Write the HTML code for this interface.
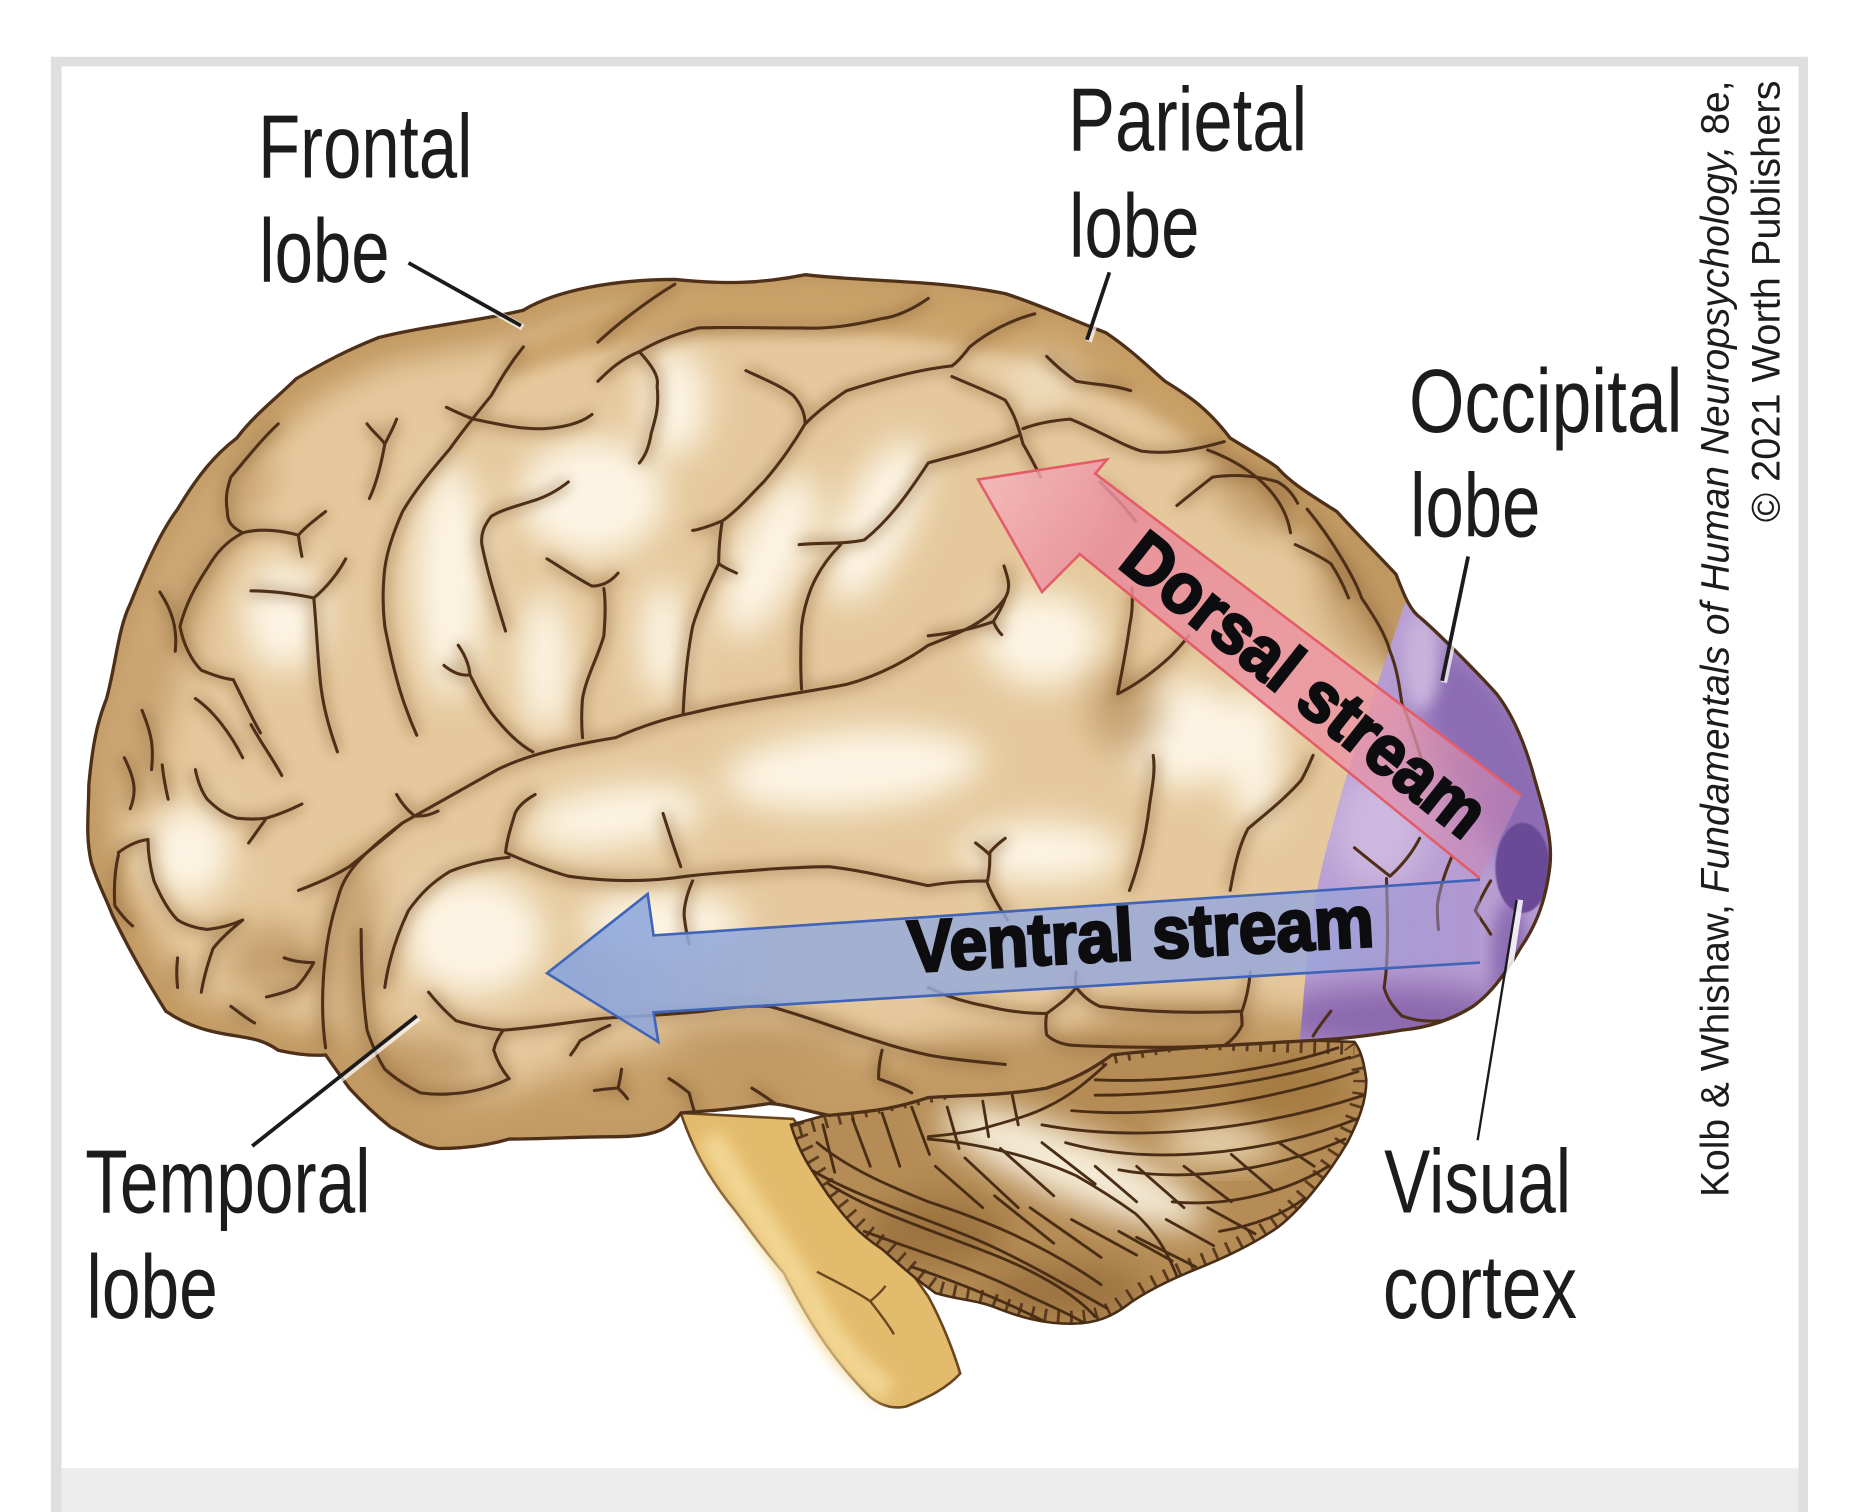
<!DOCTYPE html>
<html lang="en">
<head>
<meta charset="utf-8">
<title>Dorsal and ventral visual streams</title>
<style>
html,body{margin:0;padding:0;background:#fff;width:1856px;height:1512px;overflow:hidden}
svg{display:block}
text{font-family:"Liberation Sans",sans-serif;fill:#1c1c1e}
.lbl{font-size:76px}
.fol path{fill:none;stroke:#4a2d15;stroke-width:2.4;stroke-linecap:round}
</style>
</head>
<body>
<svg width="1856" height="1512" viewBox="0 0 1567.57 1277" preserveAspectRatio="none" xmlns="http://www.w3.org/2000/svg">
<defs>
<path id="brain" d="M442 262 C470 245 520 236 570 236 C610 240 640 240 680 232 C730 238 790 236 849 248 C880 258 900 268 934 281 C955 295 970 310 984 322 C1005 335 1020 345 1039 370 C1055 380 1070 388 1079 395 C1090 408 1110 420 1129 432 C1150 455 1165 470 1179 485 C1185 500 1190 515 1200 522 C1215 535 1245 565 1264 586 C1275 600 1285 620 1294 650 C1302 680 1312 705 1309 732 C1305 765 1295 785 1284 801 C1270 825 1258 840 1244 850 C1225 862 1205 868 1184 870 C1155 875 1130 878 1104 879 C1050 882 990 885 939 891 C920 905 905 912 884 919 C850 925 815 925 784 927 C760 935 745 938 700 942 C680 938 665 933 650 932 C630 935 615 937 600 938 L575 940 C565 955 550 960 520 960 C490 960 460 962 430 962 C410 968 390 970 370 970 C355 968 345 960 330 952 C315 940 305 930 295 919 C287 908 280 898 275 891 C262 892 248 890 235 887 C222 878 212 877 200 875 C180 872 160 868 140 854 C125 830 108 800 95 773 C88 755 82 745 77 728 C72 705 75 685 75 663 C78 630 82 610 90 590 C98 560 100 530 110 510 C122 480 135 450 150 430 C165 405 180 385 200 370 C215 350 235 335 250 320 C275 305 295 295 320 285 C360 275 400 272 442 262 Z"/>
<clipPath id="cb"><use href="#brain"/></clipPath>
<path id="cbl" d="M668 950 C675 975 688 992 700 1010 C715 1030 725 1042 745 1055 C760 1068 770 1078 790 1092 C810 1098 825 1098 840 1104 C860 1112 880 1118 905 1118 C925 1118 940 1112 955 1100 C970 1090 990 1080 1010 1072 C1035 1062 1060 1050 1080 1036 C1100 1020 1122 992 1138 965 C1148 945 1154 930 1154 912 C1152 898 1150 888 1144 880 L1000 875 L880 900 L740 930 Z"/>
<clipPath id="ccb"><use href="#cbl"/></clipPath>
<clipPath id="cpur"><path d="M1188 505 L1320 600 L1330 900 L1096 900 L1100 855 C1104 800 1110 750 1125 700 C1140 640 1160 590 1188 505 Z"/></clipPath>
<filter id="b6" x="-30%" y="-30%" width="160%" height="160%"><feGaussianBlur stdDeviation="6"/></filter>
<filter id="b14" x="-40%" y="-40%" width="180%" height="180%"><feGaussianBlur stdDeviation="14"/></filter>
<filter id="b1"><feGaussianBlur stdDeviation="0.7"/></filter>
<linearGradient id="gd" gradientUnits="userSpaceOnUse" x1="830" y1="410" x2="1270" y2="710">
<stop offset="0" stop-color="#f4b3ba" stop-opacity=".82"/><stop offset=".22" stop-color="#e98b9b" stop-opacity=".85"/><stop offset=".7" stop-color="#ec97a4" stop-opacity=".85"/><stop offset="1" stop-color="#c886b8" stop-opacity=".55"/>
</linearGradient>
<linearGradient id="gv" gradientUnits="userSpaceOnUse" x1="462" y1="0" x2="1250" y2="0">
<stop offset="0" stop-color="#8aa5dd" stop-opacity=".9"/><stop offset=".3" stop-color="#98add9" stop-opacity=".85"/><stop offset=".8" stop-color="#98a8dc" stop-opacity=".85"/><stop offset="1" stop-color="#a48fd0" stop-opacity=".4"/>
</linearGradient>
<g id="sulci">
<path d="M275 885 C270 850 272 800 285 760 C290 740 300 725 340 695 C370 678 395 664 420 650 C450 635 490 628 520 623 C545 612 565 606 585 602 C625 592 680 585 715 578 C745 570 770 555 784 545 C810 535 835 525 849 505 C855 495 850 485 848 478"/>
<path d="M505 289 C520 275 545 255 570 240"/>
<path d="M784 252 C770 262 755 268 745 269 C720 275 700 278 675 277 C640 277 615 276 590 277 C570 282 555 288 540 297 C525 303 515 312 505 322"/>
<path d="M540 297 C550 308 557 318 555 326 C557 345 553 355 550 366 C548 378 545 385 540 391"/>
<path d="M442 293 C430 308 423 320 415 334 C402 350 392 362 380 379 C362 400 350 415 340 432 C332 450 327 465 325 480 C323 497 323 512 325 529 C330 555 334 572 340 590 C344 602 348 612 352 621"/>
<path d="M377 344 C385 348 392 351 400 354 C420 358 440 363 460 362 C475 361 490 358 500 350"/>
<path d="M310 358 C316 366 322 370 325 375 C322 392 318 408 312 421 M335 354 C332 362 328 369 325 375"/>
<path d="M275 432 C265 440 258 445 252 452 C238 448 220 446 205 450 C195 445 192 440 192 432 C190 420 192 412 195 403 C210 385 222 370 235 358 M252 452 C253 460 254 465 255 470"/>
<path d="M205 450 C190 458 182 468 175 480 C165 495 157 510 152 529 C155 545 162 558 170 566 C180 570 188 573 197 574 C205 590 212 605 220 619"/>
<path d="M292 472 C285 485 275 497 265 505 C250 502 230 499 212 499 M265 505 C267 525 268 550 270 570 C272 595 278 615 285 635"/>
<path d="M480 407 C470 415 460 420 450 423 C435 428 425 430 415 436 C408 445 406 452 407 460 C412 485 420 510 427 533"/>
<path d="M462 472 C475 480 490 490 500 495 C510 495 517 490 522 484 M510 497 C512 510 511 525 510 537 C505 555 495 572 492 590 C491 602 491 612 492 623"/>
<path d="M375 562 C382 568 390 571 397 570 C396 560 392 552 387 545 M397 570 C403 582 408 592 415 602 C425 615 437 628 450 635"/>
<path d="M630 313 C645 320 660 326 670 334 C677 342 680 350 680 358"/>
<path d="M804 309 C775 312 740 322 715 330 C700 340 690 348 680 358 C670 375 658 392 645 407 C632 420 622 432 610 440 C600 444 592 447 585 448 M610 440 C608 452 607 465 607 476 C612 480 618 482 622 484 M607 476 C598 495 590 512 585 529 C580 555 578 580 577 602"/>
<path d="M860 368 C830 380 805 385 784 391 C765 420 750 440 730 456 C712 460 693 458 675 460 M710 460 C698 472 690 485 685 497 C680 510 678 520 677 529 C676 550 676 565 677 582"/>
<path d="M804 309 C810 305 815 298 819 293 C835 280 855 270 874 265"/>
<path d="M804 318 C820 325 838 332 849 338 C857 350 860 360 864 375 C870 385 875 395 879 403"/>
<path d="M864 362 C875 358 890 355 904 354 C925 362 945 375 964 381 C985 384 1010 380 1034 373"/>
<path d="M884 301 C893 310 900 316 909 322 C925 325 940 325 955 330"/>
<path d="M929 407 C940 418 950 428 959 440"/>
<path d="M994 427 C1005 418 1015 410 1024 403 C1045 400 1062 402 1079 407 C1088 412 1092 418 1096 425"/>
<path d="M1094 460 C1105 465 1115 470 1124 476 C1130 485 1135 495 1139 505"/>
<path d="M1104 430 C1125 455 1145 490 1150 505 C1160 520 1170 535 1174 550 C1180 565 1182 580 1184 594"/>
<path d="M849 505 C847 512 843 518 839 525 C820 532 802 535 784 537 M839 525 C841 530 843 533 846 536"/>
<path d="M956 497 C957 510 956 520 954 529 C952 545 948 565 944 586 C960 578 975 567 989 554 C995 548 1000 542 1004 537"/>
<path d="M452 671 C445 675 438 680 435 687 C431 700 428 710 427 720 C445 728 462 735 480 740 C515 745 548 745 580 740 C605 737 628 736 650 734 C668 733 685 732 700 732 C728 735 755 742 784 748 C800 745 815 744 834 744 C836 735 836 728 836 720 C840 715 845 711 849 708 M836 722 C832 718 828 715 824 712 M834 746 C838 757 845 768 851 777"/>
<path d="M430 724 C410 726 395 730 380 736 C365 745 355 755 345 769 C335 790 328 812 325 834"/>
<path d="M560 687 C565 703 570 718 575 732 M585 744 C580 755 577 768 578 775 C579 783 580 790 582 797"/>
<path d="M305 785 C305 810 306 840 310 870 C315 885 320 895 325 903 C335 912 345 918 355 923 C370 925 380 924 390 923 C405 921 418 917 430 911"/>
<path d="M362 838 C370 848 378 856 385 862 C398 866 412 869 425 870 C455 868 482 863 510 860 C540 858 568 857 595 854 C615 851 635 849 650 850 C680 858 710 870 740 879 C755 884 770 888 784 891 C805 895 828 897 849 899"/>
<path d="M425 870 C420 877 418 882 417 887 C420 897 425 905 430 911"/>
<path d="M515 866 C505 870 497 875 490 879 C487 884 485 887 482 891"/>
<path d="M502 921 C510 920 517 919 522 919 C525 922 528 925 530 928 M525 903 C524 910 523 915 522 919"/>
<path d="M565 911 C572 915 578 920 582 923 C584 930 585 935 587 940"/>
<path d="M635 919 C645 925 652 930 660 936"/>
<path d="M745 887 C743 895 742 903 742 911 C752 915 762 918 770 923"/>
<path d="M784 834 C800 842 818 847 834 850 C850 854 868 856 884 856 C895 848 903 842 909 834 C908 828 908 825 909 821 M909 834 C915 842 922 847 929 850 C970 855 1010 856 1049 854 C1053 843 1055 832 1056 821"/>
<path d="M884 856 C883 862 883 868 884 874 C890 880 900 883 909 883 C950 885 995 885 1034 883 C1042 878 1046 872 1049 866 C1049 860 1049 857 1048 854"/>
<path d="M974 638 C976 652 973 665 971 679 C968 705 962 730 954 752"/>
<path d="M1109 638 C1106 645 1103 652 1099 659 C1085 675 1068 688 1054 700 C1046 715 1042 735 1039 752"/>
<path d="M165 650 C167 660 170 668 175 675 C183 683 190 688 200 691 C210 692 218 692 225 691 C235 688 245 684 255 679 M225 691 C220 698 215 705 210 712"/>
<path d="M335 671 C340 680 345 685 350 689 C357 690 364 688 370 685"/>
<path d="M252 752 C268 746 282 740 295 732 C310 720 325 708 340 695"/>
<path d="M100 720 C108 714 117 710 125 709 C125 722 127 733 130 744 C136 758 143 770 150 777 C158 782 166 784 175 785 C185 784 196 781 205 777 C195 785 187 792 180 801 C175 815 172 826 170 838"/>
<path d="M150 809 C149 818 149 826 150 834 M100 722 C97 735 96 750 97 765 C102 772 107 778 112 782"/>
<path d="M240 809 C248 812 256 813 265 813 C260 822 255 829 250 834 C242 838 234 840 225 842 M195 850 C202 855 208 860 215 864"/>
<path d="M137 646 C138 656 140 666 142 675 M212 612 C222 630 230 640 238 655 M120 600 C128 620 130 630 128 650 M165 590 C180 600 195 620 205 640 M135 500 C145 515 150 530 148 550 M105 640 C115 660 115 670 110 683"/>
<path d="M1226 724 C1220 738 1216 750 1214 764 C1214 772 1214 778 1215 785 M1259 744 C1254 752 1250 760 1246 769 C1250 776 1255 782 1259 789"/>
<path d="M1144 716 C1155 725 1165 733 1174 740 C1185 730 1193 720 1199 708 M1171 742 C1172 775 1173 810 1169 834 C1172 845 1178 852 1184 858 C1195 862 1208 863 1219 862 C1235 856 1250 848 1264 838"/>
<path d="M1124 854 C1118 862 1113 868 1109 875"/>
<path d="M1020 380 C1060 395 1085 420 1090 450 M1184 594 C1195 620 1200 640 1205 655"/>
</g>
</defs>

<rect x="0" y="0" width="1568" height="1277" fill="#ffffff"/>
<rect x="43" y="48" width="1484" height="8" fill="#dfdfdf"/>
<rect x="43" y="48" width="9" height="1229" fill="#dfdfdf"/>
<rect x="1519" y="48" width="8" height="1229" fill="#dfdfdf"/>
<rect x="52" y="1240" width="1467" height="37" fill="#ececec"/>

<!-- brain stem -->
<path d="M575 940 C585 970 598 993 615 1015 C630 1033 640 1050 662 1075 C680 1110 700 1145 735 1180 C745 1188 755 1190 765 1188 C785 1180 800 1172 811 1160 C805 1140 795 1115 784 1095 C760 1060 720 1010 670 945 Z" fill="#e3bb6d" stroke="#6a4620" stroke-width="2.2"/>
<path d="M600 960 C620 1000 650 1040 680 1090 C700 1130 725 1160 750 1175" fill="none" stroke="#f2d692" stroke-width="22" filter="url(#b6)"/>
<path d="M690 1074 C705 1082 722 1090 735 1099 C742 1108 750 1118 755 1127 M735 1099 C740 1095 745 1090 748 1086" fill="none" stroke="#6a4620" stroke-width="2"/>

<!-- cerebellum -->
<use href="#cbl" fill="#b58c55"/>
<g clip-path="url(#ccb)">
<ellipse cx="905" cy="985" rx="120" ry="28" fill="#f6ecd8" filter="url(#b14)" transform="rotate(22 905 985)"/>
<ellipse cx="1030" cy="965" rx="50" ry="18" fill="#e9d6b2" filter="url(#b14)"/>
<ellipse cx="790" cy="1040" rx="60" ry="30" fill="#9c7340" filter="url(#b14)"/>
<ellipse cx="900" cy="1090" rx="70" ry="24" fill="#9c7340" filter="url(#b14)"/>
<ellipse cx="1090" cy="920" rx="50" ry="30" fill="#a57b42" filter="url(#b14)"/>
<g class="fol">
<path d="M784 960 C805 958 825 955 834 952 C855 946 870 942 884 935 C905 925 920 912 934 899"/>
<path d="M925 912 C990 915 1070 905 1130 885 M925 925 C990 925 1070 915 1140 893 M905 938 C980 945 1070 930 1147 905 M880 950 C960 965 1060 955 1152 925 M900 965 C970 985 1070 975 1146 945 M945 988 C1010 1000 1085 985 1136 962 M990 1015 C1040 1020 1090 1005 1122 985 M1030 1040 C1060 1035 1085 1025 1102 1012"/>
<path d="M784 962 C820 965 870 975 909 993 C930 1005 945 1015 959 1025 C975 1040 985 1055 994 1078"/>
<path d="M690 965 C720 990 760 1005 784 1015 C830 1030 880 1050 930 1085 M700 1000 C740 1025 790 1040 840 1060 C870 1072 905 1090 925 1112 M730 1040 C770 1055 820 1070 860 1090 C880 1100 900 1108 915 1117 M770 1070 C800 1080 840 1095 880 1115 M680 985 C720 1010 780 1028 825 1047 C860 1062 900 1085 935 1105"/>
<path d="M695 950 L705 990 M720 945 L735 985 M745 940 L760 985 M770 935 L785 975 M800 935 L810 970 M830 930 L835 960 M855 925 L860 950"/>
<path d="M790 985 L830 1020 M815 978 L860 1020 M845 970 L890 1010 M880 965 L925 1000 M925 985 L960 1015 M960 985 L1000 1020 M1000 985 L1040 1015 M1040 975 L1075 1005 M1080 965 L1110 985"/>
<path d="M905 1030 L960 1060 M945 1040 L990 1065 M985 1030 L1025 1052 M870 1020 L930 1062 M840 1010 L890 1050 M960 1045 L1010 1070 M1020 1020 L1060 1042"/>
</g>
<use href="#cbl" fill="none" stroke="#4a2d15" stroke-width="22" stroke-dasharray="2.4 9" opacity=".85"/>
</g>
<use href="#cbl" fill="none" stroke="#4a2d15" stroke-width="2.2"/>

<!-- cerebrum -->
<use href="#brain" fill="#e5c99d"/>
<g clip-path="url(#cb)">
<use href="#brain" fill="none" stroke="#bf965f" stroke-width="44" filter="url(#b14)"/>
<path d="M430 300 C500 250 620 230 780 245 C840 250 880 262 940 290 C1000 330 1080 400 1180 500 L1180 560 C1130 470 1040 380 960 340 C880 300 800 285 700 280 C600 275 500 290 430 320 Z" fill="#c89f66" filter="url(#b6)" opacity=".85"/>
<path d="M80 660 C90 560 130 460 200 380 L235 400 C180 480 140 580 130 690 Z" fill="#c9a472" filter="url(#b14)"/>
<path d="M280 890 L300 930 C340 975 480 975 570 945 L700 945 L1000 890 L1000 870 L740 885 C620 870 500 880 420 930 C370 930 330 900 320 860 Z" fill="#c29a63" filter="url(#b14)" opacity=".9"/>
<g fill="#fcf4e3" filter="url(#b14)">
<ellipse cx="500" cy="420" rx="62" ry="50"/>
<ellipse cx="380" cy="490" rx="30" ry="100"/>
<ellipse cx="570" cy="340" rx="28" ry="46"/>
<ellipse cx="650" cy="470" rx="28" ry="75" transform="rotate(25 650 470)"/>
<ellipse cx="740" cy="440" rx="30" ry="75" transform="rotate(25 740 440)"/>
<ellipse cx="880" cy="540" rx="50" ry="40"/>
<ellipse cx="560" cy="540" rx="20" ry="50"/>
<ellipse cx="460" cy="560" rx="22" ry="60"/>
<ellipse cx="400" cy="790" rx="60" ry="50"/>
<ellipse cx="520" cy="690" rx="75" ry="26" transform="rotate(-8 520 690)"/>
<ellipse cx="720" cy="650" rx="110" ry="34" transform="rotate(-5 720 650)"/>
<ellipse cx="880" cy="720" rx="70" ry="26"/>
<ellipse cx="1000" cy="620" rx="50" ry="45"/>
<ellipse cx="240" cy="520" rx="35" ry="46"/>
<ellipse cx="160" cy="720" rx="35" ry="40"/>
<ellipse cx="1060" cy="640" rx="22" ry="60"/>
<ellipse cx="880" cy="320" rx="30" ry="22" opacity=".5"/>
<ellipse cx="560" cy="780" rx="70" ry="28"/>
</g>
<g fill="#b78f5c" filter="url(#b14)" opacity=".7">
<ellipse cx="950" cy="600" rx="30" ry="36"/>
<ellipse cx="230" cy="810" rx="40" ry="30"/>
<ellipse cx="300" cy="800" rx="20" ry="80"/>
<ellipse cx="360" cy="900" rx="50" ry="26"/>
<ellipse cx="640" cy="880" rx="80" ry="20"/>
<ellipse cx="870" cy="890" rx="90" ry="14"/>
<ellipse cx="1000" cy="860" rx="80" ry="14"/>
<ellipse cx="1060" cy="420" rx="40" ry="22" transform="rotate(35 1060 420)"/>
<ellipse cx="1150" cy="510" rx="30" ry="60" transform="rotate(-25 1150 510)"/>
</g>
<use href="#sulci" fill="none" stroke="#8f673a" stroke-width="9" filter="url(#b6)" opacity=".5"/>
<g clip-path="url(#cpur)">
<rect x="1090" y="500" width="240" height="400" fill="#b89ed3"/>
<ellipse cx="1260" cy="640" rx="45" ry="110" fill="#8c6cb2" filter="url(#b14)" transform="rotate(-30 1260 640)"/>
<ellipse cx="1180" cy="860" rx="110" ry="28" fill="#8b67ad" filter="url(#b14)"/>
<ellipse cx="1165" cy="700" rx="40" ry="50" fill="#cdb8df" filter="url(#b14)"/>
<ellipse cx="1200" cy="560" rx="16" ry="40" fill="#c8b3dc" filter="url(#b6)"/>
<ellipse cx="1275" cy="810" rx="16" ry="50" fill="#8e6eb3" filter="url(#b6)"/>
</g>
<ellipse cx="1286" cy="733" rx="23" ry="38" fill="#6b4a96" filter="url(#b1)"/>
<use href="#sulci" fill="none" stroke="#4e2f18" stroke-width="2.6" stroke-linecap="round" stroke-linejoin="round"/>
</g>
<use href="#brain" fill="none" stroke="#4e2f18" stroke-width="2.8"/>

<!-- dorsal arrow -->
<path d="M826 405 L935 388 L925 400 L1285 672 L1250 742 L912 468 L880 500 Z" fill="url(#gd)"/>
<path d="M1285 672 L925 400 L935 388 L826 405 L880 500 L912 468 L1250 742" fill="none" stroke="#e45c68" stroke-width="2.2"/>

<!-- ventral arrow -->
<path d="M462 822 L547 755 L552 790 L1250 743 L1250 813 L552 855 L556 880 Z" fill="url(#gv)"/>
<path d="M1250 743 L552 790 L547 755 L462 822 L556 880 L552 855 L1250 813" fill="none" stroke="#3f64b8" stroke-width="2.2"/>

<!-- leader lines -->
<g fill="none">
<path d="M345 222 L440 275 M937 230 L918 287 M1240 470 L1218 575 M213 968 L352 858" stroke="#ffffff" stroke-width="5.5" opacity=".7" transform="translate(1.5 1.5)"/>
<path d="M345 222 L440 275 M937 230 L918 287 M1240 470 L1218 575 M213 968 L352 858" stroke="#1b1b1d" stroke-width="3.2"/>
<path d="M1284 760 L1272 840" stroke="#ffffff" stroke-width="5" opacity=".85"/>
<path d="M1248 963 L1281 760" stroke="#1b1b1d" stroke-width="2"/>
</g>

<!-- labels -->
<text class="lbl" x="218" y="150" textLength="181" lengthAdjust="spacingAndGlyphs">Frontal</text>
<text class="lbl" x="219" y="238" textLength="110" lengthAdjust="spacingAndGlyphs">lobe</text>
<text class="lbl" x="902" y="127" textLength="202" lengthAdjust="spacingAndGlyphs">Parietal</text>
<text class="lbl" x="903" y="217" textLength="110" lengthAdjust="spacingAndGlyphs">lobe</text>
<text class="lbl" x="1190" y="365" textLength="231" lengthAdjust="spacingAndGlyphs">Occipital</text>
<text class="lbl" x="1191" y="453" textLength="110" lengthAdjust="spacingAndGlyphs">lobe</text>
<text class="lbl" x="72" y="1024" textLength="241" lengthAdjust="spacingAndGlyphs">Temporal</text>
<text class="lbl" x="73" y="1113" textLength="111" lengthAdjust="spacingAndGlyphs">lobe</text>
<text class="lbl" x="1169" y="1024" textLength="158" lengthAdjust="spacingAndGlyphs">Visual</text>
<text class="lbl" x="1168" y="1113" textLength="164" lengthAdjust="spacingAndGlyphs">cortex</text>

<text transform="translate(943 478) rotate(38.4)" font-size="60" font-weight="700" textLength="374" lengthAdjust="spacingAndGlyphs" style="fill:#0d0d10;stroke:#0d0d10;stroke-width:2.4">Dorsal stream</text>
<text transform="translate(768 821) rotate(-3.2)" font-size="62" font-weight="700" textLength="394" lengthAdjust="spacingAndGlyphs" style="fill:#0d0d10;stroke:#0d0d10;stroke-width:2.4">Ventral stream</text>

<text transform="translate(1460 1011) rotate(-90)" font-size="33.5" textLength="943" lengthAdjust="spacingAndGlyphs">Kolb &amp; Whishaw, <tspan font-style="italic">Fundamentals of Human Neuropsychology,</tspan> 8e,</text>
<text transform="translate(1503 441) rotate(-90)" font-size="33.5" textLength="373" lengthAdjust="spacingAndGlyphs">© 2021 Worth Publishers</text>
</svg>
</body>
</html>
